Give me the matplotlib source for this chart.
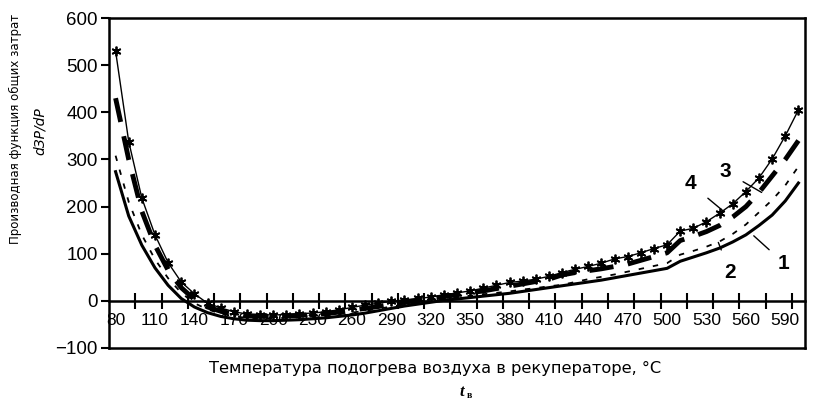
import numpy as np
import matplotlib.pyplot as plt

# temperatures of air preheating, deg C
t = np.arange(80, 610, 10)

# curve 1 (thick solid)
s1 = [274, 180, 118, 70, 33, 5, -13, -25, -33, -38,
      -41, -42, -42, -41, -40, -38, -36, -33, -30, -26,
      -21, -16, -11, -7, -3, 1, 4, 7, 10, 13,
      16, 20, 24, 28, 32, 36, 40, 44, 49, 54,
      59, 64, 69, 84, 93, 102, 112, 125, 140, 160,
      182, 212, 250]
# curve 2 (thin dashes)
s2 = [308, 210, 140, 88, 48, 17, -5, -18, -27, -33,
      -36, -37, -37, -36, -35, -33, -31, -28, -25, -21,
      -17, -12, -8, -4, 0, 4, 8, 11, 14, 17,
      20, 24, 27, 31, 34, 40, 46, 51, 56, 62,
      68, 74, 80, 98, 106, 115, 126, 142, 162, 188,
      214, 245, 285]
# curve 3 (thick dashes)
s3 = [430, 300, 190, 118, 65, 28, 3, -13, -22, -28,
      -32, -33, -33, -32, -31, -29, -27, -24, -20, -16,
      -12, -7, -3, 1, 5, 9, 13, 17, 21, 26,
      31, 36, 41, 46, 55, 60, 64, 68, 73, 78,
      86, 94, 102, 128, 137, 147, 160, 178, 200, 230,
      265, 300, 340]
# curve 4 (markers)
s4 = [530, 338, 218, 140, 81, 40, 15, -5, -15, -23,
      -28, -29, -30, -29, -27, -26, -23, -19, -14, -9,
      -5, -1, 2, 5, 8, 12, 17, 21, 27, 33,
      39, 42, 46, 52, 60, 67, 73, 80, 89, 94,
      102, 111, 119, 148, 154, 168, 186, 206, 232, 261,
      301, 350, 405]

xlabels = np.arange(80, 600, 30)
xticks_zero = np.arange(95, 600, 20)

fig = plt.figure(figsize=(8.16, 4.01), dpi=100)
ax = fig.add_axes([0.1336, 0.1322, 0.8529, 0.8228])

ax.plot(t, s1, color='black', lw=2.2)
ax.plot(t, s2, color='black', lw=1.3, dashes=(3, 5))
ax.plot(t, s3, color='black', lw=3.5, dashes=(5, 3))
ax.plot(t, s4, color='black', lw=1.0, marker=(6, 2, 0), ms=7, mew=1.3)

ax.set_xlim(75, 605)
ax.set_ylim(-100, 600)
ax.set_xticks([])
ax.set_yticks(np.arange(-100, 700, 100))
ax.set_yticklabels(['\u2212100'] + [str(v) for v in range(0, 700, 100)])
ax.tick_params(axis='y', direction='out', length=6, width=1.5, labelsize=13.5,
               pad=2)
for lab in ax.get_yticklabels():
    lab.set_family('Liberation Sans')
for sp in ax.spines.values():
    sp.set_linewidth(1.8)

# category axis crossing at zero
sec = ax.secondary_xaxis(100 / 700)
sec.spines['bottom'].set_linewidth(1.8)
sec.set_xticks(xticks_zero)
sec.set_xticklabels([])
sec.set_xticks(xlabels, minor=True)
sec.set_xticklabels([str(v) for v in xlabels], minor=True,
                    family='Liberation Sans', fontsize=12.5)
sec.tick_params(which='major', direction='inout', length=12, width=1.5)
sec.tick_params(which='minor', length=0, pad=9)

# curve numbers
ax.annotate('1', xy=(566, 138), xytext=(589, 80), fontsize=15, weight='bold',
            family='Liberation Sans', ha='center', va='center',
            arrowprops=dict(arrowstyle='-', color='black', lw=1,
                            shrinkB=0, shrinkA=6))
ax.annotate('2', xy=(539, 124), xytext=(548, 60), fontsize=15, weight='bold',
            family='Liberation Sans', ha='center', va='center',
            arrowprops=dict(arrowstyle='-', color='black', lw=1,
                            shrinkB=0, shrinkA=8))
ax.annotate('3', xy=(572, 230), xytext=(544, 275), fontsize=15, weight='bold',
            family='Liberation Sans', ha='center', va='center',
            arrowprops=dict(arrowstyle='-', color='black', lw=1,
                            shrinkB=0, shrinkA=8))
ax.annotate('4', xy=(543, 190), xytext=(518, 248), fontsize=15, weight='bold',
            family='Liberation Sans', ha='center', va='center',
            arrowprops=dict(arrowstyle='-', color='black', lw=1,
                            shrinkB=0, shrinkA=8))

fig.text(15 / 816, 1 - 129 / 401, 'Производная функция общих затрат',
         rotation=90, ha='center', va='center', fontsize=8.5)
fig.text(40 / 816, 1 - 131 / 401, 'dЗР/dP', rotation=90, style='italic',
         ha='center', va='center', fontsize=10)
fig.text(435 / 816, 1 - 368 / 401,
         'Температура подогрева воздуха в рекуператоре, °С',
         ha='center', va='center', fontsize=11.7)
fig.text(462 / 816, 1 - 392 / 401, 't', style='italic', weight='bold',
         family='Liberation Serif', ha='center', va='center', fontsize=12)
fig.text(467 / 816, 1 - 396 / 401, 'в', weight='bold',
         family='Liberation Serif', ha='left', va='center', fontsize=7)

fig.savefig('out.png', dpi=100)
